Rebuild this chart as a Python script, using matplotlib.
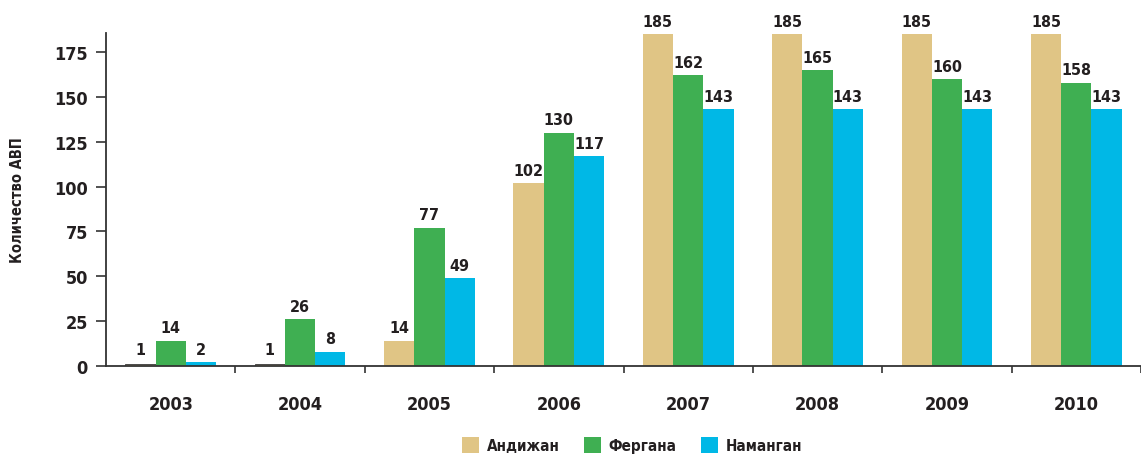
import matplotlib
matplotlib.use("Agg")
from matplotlib import pyplot as plt
from matplotlib import font_manager
from matplotlib.patches import Patch
import numpy as np

years = ['2003', '2004', '2005', '2006', '2007', '2008', '2009', '2010']
andijan = [1, 1, 14, 102, 185, 185, 185, 185]
fergana = [14, 26, 77, 130, 162, 165, 160, 158]
namangan = [2, 8, 49, 117, 143, 143, 143, 143]
series_names = ['Андижан', 'Фергана', 'Наманган']
colors = ['#E0C585', '#3FAF52', '#00B8E6']

fonts = font_manager.fontManager.ttflist
names = {f.name for f in fonts}
stretch = 'normal'
if 'Liberation Sans Narrow' in names:
    family = ['Liberation Sans Narrow', 'DejaVu Sans']
elif any(f.name == 'DejaVu Sans' and 'ondensed' in f.fname for f in fonts):
    family = ['DejaVu Sans']
    stretch = 'condensed'
else:
    family = ['Liberation Sans', 'DejaVu Sans']
plt.rcParams['font.family'] = family
plt.rcParams['font.stretch'] = stretch
plt.rcParams['font.weight'] = 'bold'

W, H = 1141, 456
fig = plt.figure(figsize=(W / 100, H / 100), dpi=100)
ax = fig.add_axes([106 / W, 1 - 367 / H, 1 - 106 / W, (367 - 34) / H])

x = np.arange(len(years))
bw = 0.234
text_col = '#231F20'
for i, (vals, col) in enumerate(zip([andijan, fergana, namangan], colors)):
    pos = x + (i - 1) * bw
    bars = ax.bar(pos, vals, bw, color=col, zorder=2)
    for b, v in zip(bars, vals):
        if v <= 1:
            b.set_edgecolor('#4a4a4a')
            b.set_linewidth(0.7)
    for p, v in zip(pos, vals):
        ax.text(p, max(v, 2) + 3, str(v), ha='center', va='bottom',
                fontsize=11.5, fontweight='bold', color=text_col, clip_on=False)

ax.set_xlim(-0.5, -0.5 + (W - 106) / 130.5)
ax.set_ylim(0, 185.6)
ax.set_yticks([0, 25, 50, 75, 100, 125, 150, 175])
ax.set_xticks(x + 0.5, minor=False)
ax.set_xticklabels([])
ax.set_xticks(x, minor=True)
ax.set_xticklabels(years, minor=True, fontsize=13, fontweight='bold', color=text_col)
ax.tick_params(axis='x', which='minor', length=0, pad=21)
ax.tick_params(axis='x', which='major', length=5, width=1.2, color='#333333', direction='out')
ax.tick_params(axis='y', length=7, width=1.2, color='#333333', labelsize=13, labelcolor=text_col, pad=6)
for lab in ax.get_yticklabels():
    lab.set_fontweight('bold')

for s in ['top', 'right']:
    ax.spines[s].set_visible(False)
for s in ['left', 'bottom']:
    ax.spines[s].set_color('#333333')
    ax.spines[s].set_linewidth(1.3)

ax.set_ylabel('Количество АВП', fontsize=10.5, fontweight='bold', color=text_col, labelpad=21)

handles = [Patch(facecolor=c, edgecolor='none', label=n) for c, n in zip(colors, series_names)]
leg = fig.legend(handles=handles, loc='center', bbox_to_anchor=(632 / W, 1 - 446 / H), ncol=3, frameon=False,
                 handlelength=1.1, handleheight=1.3, handletextpad=0.5, columnspacing=1.6,
                 prop={'weight': 'bold', 'size': 11, 'stretch': stretch})
for t in leg.get_texts():
    t.set_color(text_col)

fig.savefig('out.png', dpi=100)
